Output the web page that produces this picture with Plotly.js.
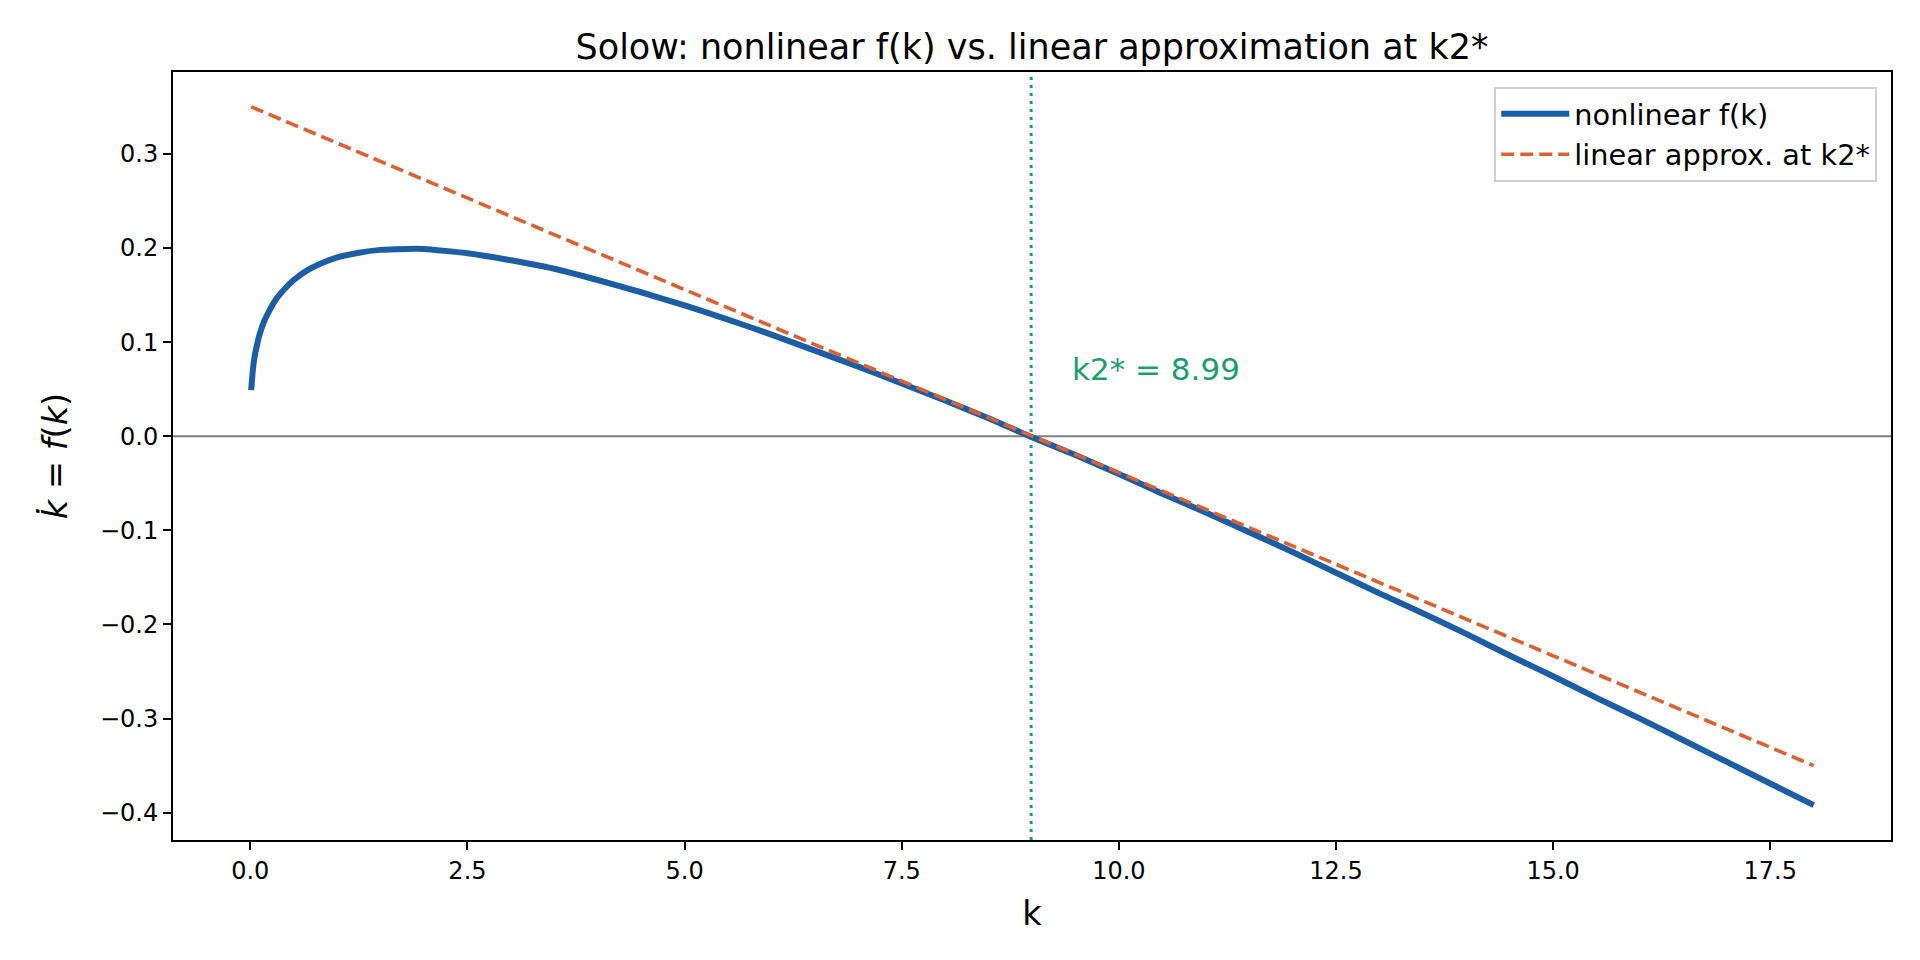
<!DOCTYPE html>
<html>
<head>
<meta charset="utf-8">
<script src="https://cdn.plot.ly/plotly-3.0.1.min.js"></script>
<style>
  html, body { margin: 0; padding: 0; background: #fff; }
  #chart { width: 1920px; height: 960px; }
</style>
</head>
<body>
<div id="chart"></div>
<script>
// values
const kNonlin = [0.01, 0.03, 0.05, 0.08, 0.1, 0.15, 0.2, 0.3, 0.4, 0.5, 0.65, 0.8, 1.0, 1.25, 1.5, 1.8,
  2.0, 2.5, 3.0, 3.5, 4.0, 4.5, 5.0, 5.5, 6.0, 6.5, 7.0, 7.5, 8.0, 8.5, 9.0, 9.5, 10.0, 10.5,
  11.0, 11.5, 12.0, 12.5, 13.0, 13.5, 14.0, 14.5, 15.0, 15.5, 16.0, 16.5, 17.0, 17.5, 18.0];
const fNonlin = [0.049, 0.071, 0.085, 0.098, 0.106, 0.120, 0.130, 0.146, 0.157, 0.166, 0.176, 0.183, 0.190, 0.195, 0.198, 0.199,
  0.199, 0.1945, 0.187, 0.178, 0.166, 0.153, 0.139, 0.124, 0.108, 0.091, 0.074, 0.056, 0.038, 0.019, -0.001, -0.020, -0.040, -0.061,
  -0.081, -0.102, -0.123, -0.145, -0.167, -0.188, -0.210, -0.233, -0.255, -0.278, -0.300, -0.323, -0.346, -0.369, -0.392];
const kLin = [0.01, 18.0];
const fLin = [0.35, -0.35];
const kStar = 8.99;
const yTicks = [-0.4, -0.3, -0.2, -0.1, 0.0, 0.1, 0.2, 0.3];
const xTicks = [0.0, 2.5, 5.0, 7.5, 10.0, 12.5, 15.0, 17.5];

const BLUE = '#1c5ea6';
const ORANGE = '#de5f30';
const GREEN = '#1a9e6e';
const FONT = 'DejaVu Sans, Liberation Sans, sans-serif';

const traces = [
  {
    type: 'scatter', mode: 'lines', name: 'nonlinear f(k)',
    x: kNonlin, y: fNonlin,
    line: {color: BLUE, width: 6, shape: 'spline', smoothing: 0.4},
  },
  {
    type: 'scatter', mode: 'lines', name: 'linear approx. at k2*',
    x: kLin, y: fLin,
    line: {color: ORANGE, width: 3.6, dash: '13px,6px'},
  },
];

const axisBase = {
  showline: true, mirror: true, linecolor: '#000', linewidth: 2,
  showgrid: false, zeroline: false,
  ticks: 'outside', ticklen: 8, tickwidth: 2, tickcolor: '#000',
  tickfont: {family: FONT, size: 24, color: '#000'},
  tickformat: '.1f',
};

const layout = {
  width: 1920, height: 960,
  paper_bgcolor: '#fff', plot_bgcolor: '#fff',
  margin: {l: 173, r: 29, t: 72, b: 120},
  font: {family: FONT, color: '#000'},
  showlegend: true,
  title: {
    text: 'Solow: nonlinear f(k) vs. linear approximation at k2*',
    font: {family: FONT, size: 35, color: '#000'},
    x: 0.5375, xanchor: 'center', yref: 'container', y: 0.951, yanchor: 'middle',
  },
  xaxis: {
    ...axisBase,
    range: [-0.89, 18.89],
    tickmode: 'array', tickvals: xTicks,
    title: {text: 'k', font: {family: FONT, size: 33.6, color: '#000'}, standoff: 18},
  },
  yaxis: {
    ...axisBase,
    range: [-0.429, 0.387],
    tickmode: 'array', tickvals: yTicks,
    title: {text: '<i>k\u0307</i> = <i>f</i>(<i>k</i>)', font: {family: FONT, size: 33.6, color: '#000'}, standoff: 22},
  },
  legend: {
    x: 0.992, y: 0.981, xanchor: 'right', yanchor: 'top',
    bgcolor: '#fff', bordercolor: '#d0d0d0', borderwidth: 2,
    font: {family: FONT, size: 28.8, color: '#000'},
    itemwidth: 68,
  },
  shapes: [
    {type: 'line', xref: 'paper', x0: 0, x1: 1, yref: 'y', y0: 0, y1: 0,
      line: {color: '#808080', width: 2}, layer: 'below'},
    {type: 'line', xref: 'x', x0: kStar, x1: kStar, yref: 'paper', y0: 0, y1: 1,
      line: {color: GREEN, width: 3, dash: '3px,5px'}, layer: 'below'},
  ],
  annotations: [
    {xref: 'x', yref: 'y', x: kStar + 0.45, y: 0.0716, xanchor: 'left', yanchor: 'middle',
      text: 'k2* = ' + kStar.toFixed(2), showarrow: false,
      font: {family: FONT, size: 31, color: GREEN}},
  ],
};

Plotly.newPlot('chart', traces, layout, {displayModeBar: false, staticPlot: true});
</script>
</body>
</html>
